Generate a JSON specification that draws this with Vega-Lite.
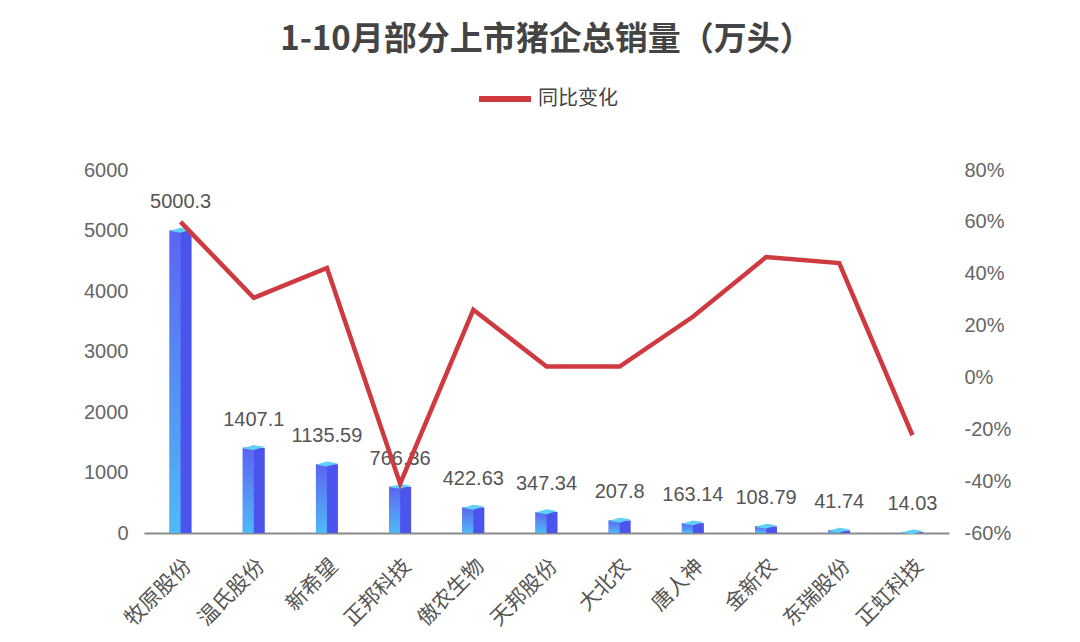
{
  "$schema": "https://vega.github.io/schema/vega-lite/v6.json",
  "width": 1080,
  "height": 642,
  "autosize": {"type": "fit", "contains": "padding"},
  "padding": {"left": 83, "right": 69, "top": 24, "bottom": 12},
  "background": "#ffffff",
  "title": {
    "text": "1-10月部分上市猪企总销量（万头）",
    "font": "Noto Sans CJK SC",
    "fontSize": 33,
    "fontWeight": "bold",
    "color": "#444444",
    "anchor": "middle",
    "offset": 13
  },
  "config": {
    "view": {"stroke": null},
    "font": "Liberation Sans",
    "axis": {"grid": false, "ticks": false, "labelColor": "#666666", "labelFont": "Liberation Sans", "labelFontSize": 20, "title": null},
    "legend": {"layout": {"top": {"anchor": "middle"}}}
  },
  "data": {
    "values": [
      {"公司": "牧原股份", "销量": 5000.3, "同比": 60},
      {"公司": "温氏股份", "销量": 1407.1, "同比": 30.7},
      {"公司": "新希望", "销量": 1135.59, "同比": 42.2},
      {"公司": "正邦科技", "销量": 766.36, "同比": -41},
      {"公司": "傲农生物", "销量": 422.63, "同比": 26.1},
      {"公司": "天邦股份", "销量": 347.34, "同比": 4.2},
      {"公司": "大北农", "销量": 207.8, "同比": 4.2},
      {"公司": "唐人神", "销量": 163.14, "同比": 23.4},
      {"公司": "金新农", "销量": 108.79, "同比": 46.4},
      {"公司": "东瑞股份", "销量": 41.74, "同比": 44.1},
      {"公司": "正虹科技", "销量": 14.03, "同比": -22.3}
    ]
  },
  "encoding": {
    "x": {
      "field": "公司",
      "type": "nominal",
      "sort": null,
      "scale": {"paddingInner": 0, "paddingOuter": 0},
      "axis": {
        "labelAngle": -45,
        "labelFont": "Noto Sans CJK SC",
        "labelFontSize": 21,
        "labelColor": "#555555",
        "labelPadding": 22,
        "domainColor": "#8a8a8a",
        "domainWidth": 2
      }
    }
  },
  "layer": [
    {
      "encoding": {
        "y": {
          "field": "销量",
          "type": "quantitative",
          "scale": {"domain": [0, 6000], "nice": false},
          "axis": {"values": [0, 1000, 2000, 3000, 4000, 5000, 6000], "format": "d", "domain": false, "labelPadding": 16}
        }
      },
      "layer": [
        {"mark": {"type": "bar", "width": 22, "color": "#4b55ee"}},
        {
          "mark": {
            "type": "bar",
            "width": 11,
            "xOffset": -5.5,
            "color": {
              "gradient": "linear",
              "x1": 0, "y1": 0, "x2": 0, "y2": 1,
              "stops": [
                {"offset": 0, "color": "#5c64f2"},
                {"offset": 1, "color": "#4fbaf6"}
              ]
            }
          }
        },
        {
          "mark": {
            "type": "point",
            "filled": true,
            "shape": "M -1 0.05 L 0 0.2 L 1 -0.1 L 0 -0.25 Z",
            "size": 484,
            "color": "#5fd0f6",
            "opacity": 1
          }
        },
        {
          "mark": {"type": "text", "baseline": "bottom", "dy": -18, "fontSize": 20, "color": "#555555", "font": "Liberation Sans"},
          "encoding": {"text": {"field": "销量", "type": "nominal"}}
        }
      ]
    },
    {
      "mark": {"type": "line", "strokeWidth": 4.5, "strokeJoin": "miter"},
      "encoding": {
        "y": {
          "field": "同比",
          "type": "quantitative",
          "scale": {"domain": [-60, 80], "nice": false},
          "axis": {
            "orient": "right",
            "values": [-60, -40, -20, 0, 20, 40, 60, 80],
            "labelExpr": "datum.value + '%'",
            "domain": false,
            "labelPadding": 15
          }
        },
        "color": {
          "datum": "同比变化",
          "type": "nominal",
          "scale": {"range": ["#cf3a40"]},
          "legend": {
            "orient": "top",
            "title": null,
            "symbolType": "stroke",
            "symbolSize": 2700,
            "symbolStrokeWidth": 6,
            "labelFont": "Noto Sans CJK SC",
            "labelFontSize": 20,
            "labelColor": "#444444",
            "offset": 59
          }
        }
      }
    }
  ],
  "resolve": {"scale": {"y": "independent"}}
}
